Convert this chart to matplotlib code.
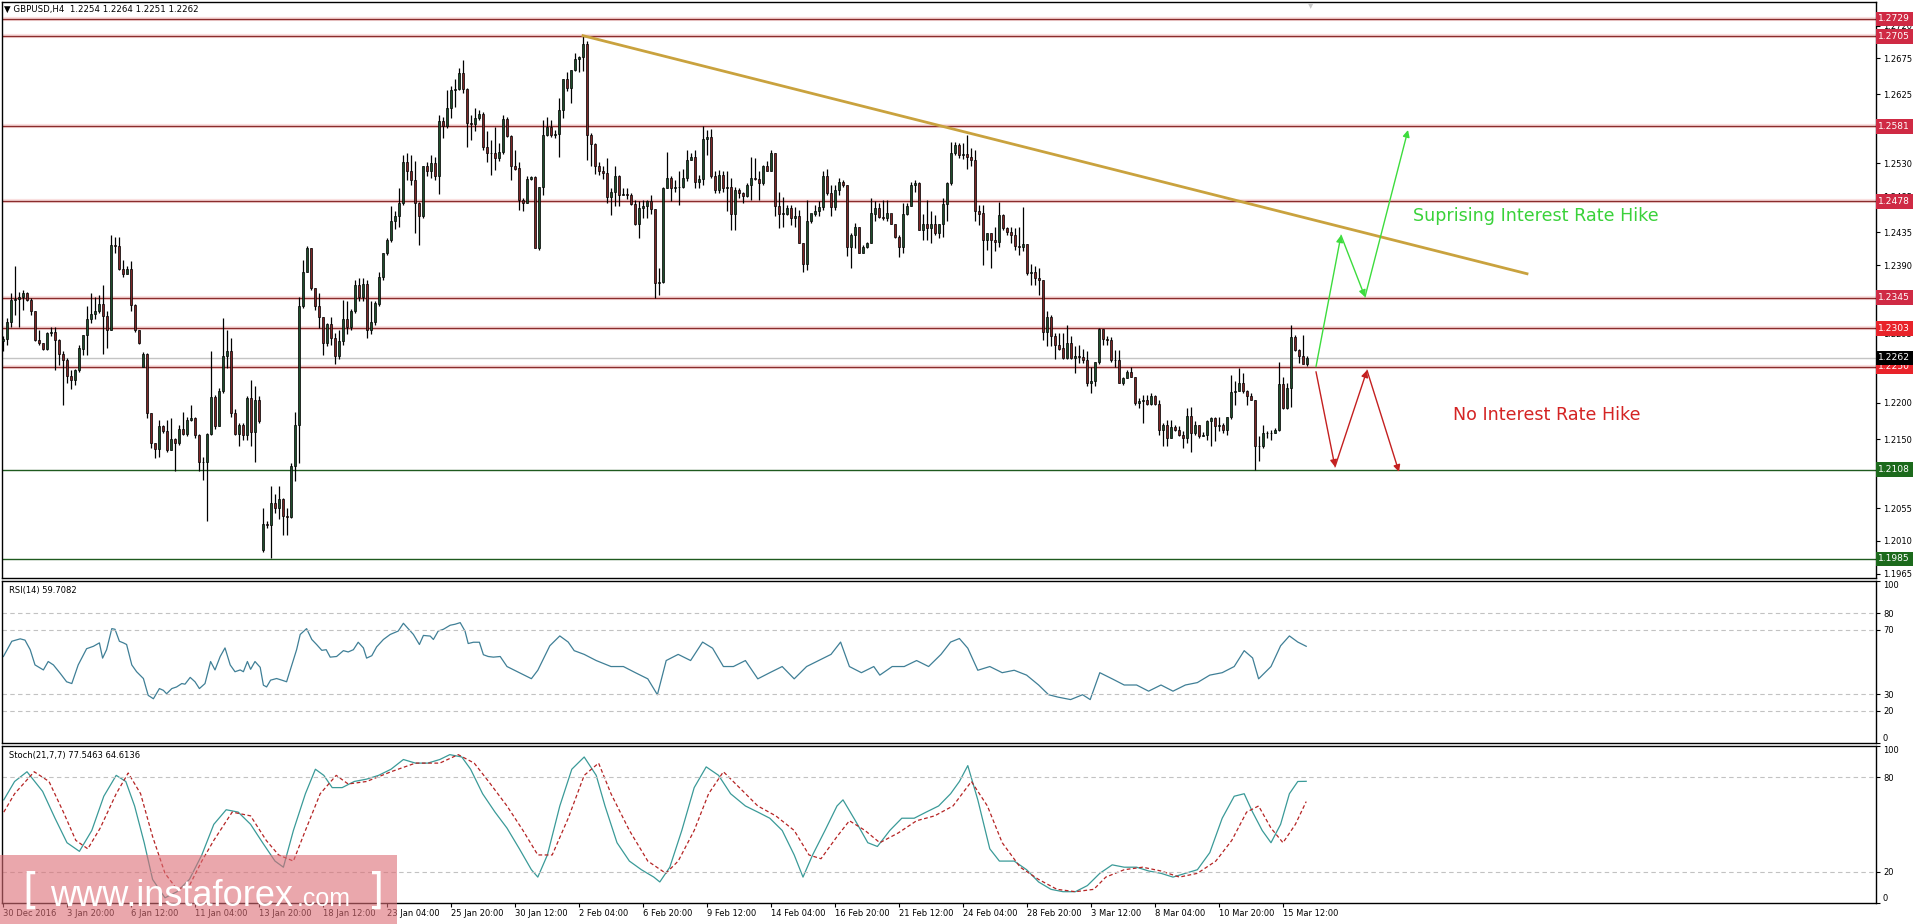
import numpy as np
import matplotlib.pyplot as plt
from matplotlib.patches import Rectangle

# ---- GBPUSD H4 candles (index 0 = 30 Dec 2016)
close = [
    1.2288, 1.2312, 1.2342, 1.2343, 1.2346, 1.2351, 1.2342, 1.2326, 1.2287, 1.2283,
    1.2274, 1.2296, 1.2298, 1.2287, 1.2267, 1.2259, 1.2237, 1.2232, 1.2245, 1.2275,
    1.2293, 1.2316, 1.2323, 1.2327, 1.2336, 1.2320, 1.2300, 1.2418, 1.2416, 1.2385,
    1.2378, 1.2384, 1.2335, 1.2301, 1.2282, 1.2267, 1.2186, 1.2145, 1.2136, 1.2168,
    1.2161, 1.2135, 1.2150, 1.2145, 1.2164, 1.2157, 1.2176, 1.2179, 1.2156, 1.2119,
    1.2118, 1.2157, 1.2208, 1.2168, 1.2216, 1.2265, 1.2271, 1.2186, 1.2157, 1.2169,
    1.2156, 1.2207, 1.2160, 1.2204, 1.2175, 1.2033, 1.2032, 1.2062, 1.2055, 1.2068,
    1.2044, 1.2043, 1.2113, 1.2169, 1.2333, 1.2381, 1.2414, 1.2358, 1.2333, 1.2318,
    1.2282, 1.2309, 1.2290, 1.2265, 1.2285, 1.2315, 1.2305, 1.2327, 1.2363, 1.2346,
    1.2364, 1.2300, 1.2312, 1.2337, 1.2374, 1.2406, 1.2425, 1.2450, 1.2457, 1.2475,
    1.2532, 1.2519, 1.2507, 1.2475, 1.2457, 1.2526, 1.2519, 1.2530, 1.2512, 1.2588,
    1.2581, 1.2606, 1.2631, 1.2632, 1.2654, 1.2632, 1.2586, 1.2585, 1.2592, 1.2598,
    1.2553, 1.2545, 1.2544, 1.2537, 1.2546, 1.2591, 1.2568, 1.2526, 1.2523, 1.2480,
    1.2476, 1.2508, 1.2511, 1.2413, 1.2498, 1.2569, 1.2580, 1.2569, 1.2571, 1.2604,
    1.2646, 1.2634, 1.2659, 1.2674, 1.2676, 1.2694, 1.2569, 1.2557, 1.2526, 1.2519,
    1.2517, 1.2484, 1.2490, 1.2513, 1.2487, 1.2488, 1.2487, 1.2474, 1.2447, 1.2468,
    1.2472, 1.2478, 1.2467, 1.2365, 1.2366, 1.2496, 1.2510, 1.2496, 1.2497, 1.2497,
    1.2510, 1.2535, 1.2539, 1.2505, 1.2508, 1.2563, 1.2567, 1.2512, 1.2494, 1.2514,
    1.2496, 1.2497, 1.2461, 1.2494, 1.2489, 1.2485, 1.2500, 1.2510, 1.2508, 1.2503,
    1.2527, 1.2519, 1.2545, 1.2471, 1.2461, 1.2461, 1.2468, 1.2455, 1.2457, 1.2420,
    1.2392, 1.2450, 1.2461, 1.2464, 1.2470, 1.2513, 1.2489, 1.2470, 1.2493, 1.2504,
    1.2500, 1.2415, 1.2432, 1.2443, 1.2406, 1.2415, 1.2420, 1.2461, 1.2468, 1.2456,
    1.2455, 1.2461, 1.2447, 1.2428, 1.2415, 1.2461, 1.2472, 1.2500, 1.2503, 1.2438,
    1.2447, 1.2441, 1.2447, 1.2434, 1.2447, 1.2474, 1.2503, 1.2544, 1.2555, 1.2542,
    1.2543, 1.2539, 1.2535, 1.2464, 1.2461, 1.2425, 1.2434, 1.2425, 1.2422, 1.2459,
    1.2441, 1.2435, 1.2432, 1.2416, 1.2415, 1.2419, 1.2379, 1.2380, 1.2372, 1.2369,
    1.2298, 1.2318, 1.2292, 1.2280, 1.2275, 1.2262, 1.2282, 1.2262, 1.2264, 1.2263,
    1.2259, 1.2227, 1.2230, 1.2256, 1.2302, 1.2288, 1.2287, 1.2259, 1.2259, 1.2228,
    1.2234, 1.2243, 1.2236, 1.2200, 1.2202, 1.2204, 1.2199, 1.2209, 1.2199, 1.2163,
    1.2170, 1.2152, 1.2167, 1.2163, 1.2156, 1.2151, 1.2182, 1.2158, 1.2170, 1.2154,
    1.2156, 1.2175, 1.2179, 1.2168, 1.2169, 1.2163, 1.2181, 1.2215, 1.2216, 1.2227,
    1.2216, 1.2209, 1.2204, 1.2140, 1.2140, 1.2158, 1.2158, 1.2158, 1.2163, 1.2226,
    1.2193, 1.2220, 1.2291, 1.2273, 1.2264, 1.2254, 1.2262]

high = [
    1.2292, 1.2317, 1.2351, 1.2388, 1.2353, 1.2355, 1.2353, 1.2344, 1.2326, 1.2301,
    1.2283, 1.2298, 1.2305, 1.2305, 1.2288, 1.2271, 1.2262, 1.2245, 1.2247, 1.2280,
    1.2294, 1.2333, 1.2351, 1.2346, 1.2349, 1.2363, 1.2326, 1.2431, 1.2429, 1.2429,
    1.2397, 1.2388, 1.2395, 1.2336, 1.2300, 1.2270, 1.2269, 1.2186, 1.2144, 1.2177,
    1.2169, 1.2177, 1.2179, 1.2151, 1.2170, 1.2188, 1.2181, 1.2197, 1.2181, 1.2157,
    1.2126, 1.2158, 1.2271, 1.2211, 1.2220, 1.2317, 1.2301, 1.2290, 1.2191, 1.2172,
    1.2172, 1.2209, 1.2232, 1.2223, 1.2209, 1.2055, 1.2037, 1.2085, 1.2074, 1.2085,
    1.2069, 1.2055, 1.2117, 1.2188, 1.2346, 1.2397, 1.2416, 1.2414, 1.2358, 1.2351,
    1.2318, 1.2310, 1.2318, 1.2296, 1.2300, 1.2342, 1.2340, 1.2330, 1.2370, 1.2372,
    1.2372, 1.2370, 1.2340, 1.2340, 1.2380, 1.2406, 1.2427, 1.2471, 1.2464, 1.2496,
    1.2541, 1.2544, 1.2542, 1.2534, 1.2477, 1.2526, 1.2532, 1.2542, 1.2539, 1.2597,
    1.2594, 1.2631, 1.2636, 1.2647, 1.2661, 1.2673, 1.2634, 1.2597, 1.2606, 1.2604,
    1.2601, 1.2574, 1.2562, 1.2580, 1.2558, 1.2597, 1.2594, 1.2569, 1.2549, 1.2532,
    1.2482, 1.2512, 1.2512, 1.2513, 1.2498, 1.2590, 1.2594, 1.2590, 1.2576, 1.2620,
    1.2647, 1.2656, 1.2659, 1.2682, 1.2678, 1.2705, 1.2698, 1.2572, 1.2558, 1.2532,
    1.2526, 1.2537, 1.2496, 1.2526, 1.2514, 1.2496, 1.2496, 1.2489, 1.2480, 1.2478,
    1.2480, 1.2480, 1.2487, 1.2467, 1.2386, 1.2498, 1.2546, 1.2512, 1.2507, 1.2519,
    1.2523, 1.2549, 1.2544, 1.2549, 1.2514, 1.2582, 1.2576, 1.2578, 1.2519, 1.2521,
    1.2519, 1.2519, 1.2510, 1.2498, 1.2496, 1.2491, 1.2503, 1.2539, 1.2537, 1.2519,
    1.2528, 1.2533, 1.2549, 1.2544, 1.2491, 1.2484, 1.2473, 1.2473, 1.2470, 1.2466,
    1.2420, 1.2480, 1.2461, 1.2473, 1.2478, 1.2519, 1.2523, 1.2500, 1.2500, 1.2510,
    1.2507, 1.2499, 1.2434, 1.2448, 1.2443, 1.2418, 1.2422, 1.2482, 1.2478, 1.2475,
    1.2480, 1.2480, 1.2457, 1.2447, 1.2432, 1.2475, 1.2475, 1.2505, 1.2507, 1.2505,
    1.2461, 1.2480, 1.2464, 1.2459, 1.2447, 1.2482, 1.2505, 1.2560, 1.2560, 1.2558,
    1.2558, 1.2569, 1.2551, 1.2549, 1.2473, 1.2473, 1.2434, 1.2434, 1.2443, 1.2477,
    1.2461, 1.2443, 1.2443, 1.2441, 1.2443, 1.2470, 1.2417, 1.2392, 1.2388, 1.2386,
    1.2370, 1.2326, 1.2321, 1.2296, 1.2296, 1.2296, 1.2308, 1.2292, 1.2278, 1.2280,
    1.2275, 1.2271, 1.2250, 1.2257, 1.2303, 1.2296, 1.2292, 1.2291, 1.2273, 1.2273,
    1.2236, 1.2245, 1.2250, 1.2236, 1.2207, 1.2211, 1.2211, 1.2214, 1.2211, 1.2204,
    1.2172, 1.2176, 1.2176, 1.2170, 1.2168, 1.2161, 1.2193, 1.2195, 1.2175, 1.2165,
    1.2160, 1.2177, 1.2181, 1.2181, 1.2181, 1.2172, 1.2181, 1.2239, 1.2230, 1.2248,
    1.2241, 1.2218, 1.2214, 1.2204, 1.2154, 1.2170, 1.2161, 1.2163, 1.2165, 1.2256,
    1.2236, 1.2227, 1.2308, 1.2294, 1.2275, 1.2294, 1.2264]

low = [
    1.2271, 1.2280, 1.2305, 1.2321, 1.2305, 1.2328, 1.2340, 1.2321, 1.2285, 1.2280,
    1.2273, 1.2273, 1.2292, 1.2246, 1.2252, 1.2197, 1.2227, 1.2219, 1.2225, 1.2243,
    1.2266, 1.2266, 1.2310, 1.2315, 1.2324, 1.2267, 1.2276, 1.2300, 1.2406, 1.2383,
    1.2373, 1.2378, 1.2326, 1.2298, 1.2281, 1.2250, 1.2179, 1.2138, 1.2124, 1.2126,
    1.2158, 1.2133, 1.2135, 1.2106, 1.2142, 1.2156, 1.2154, 1.2175, 1.2151, 1.2106,
    1.2094, 1.2037, 1.2156, 1.2164, 1.2168, 1.2214, 1.2248, 1.2181, 1.2156, 1.2140,
    1.2149, 1.2149, 1.2140, 1.2119, 1.2172, 1.1994, 1.2027, 1.1986, 1.2048, 1.2040,
    1.2018, 1.2018, 1.2041, 1.2092, 1.2117, 1.2331, 1.2380, 1.2355, 1.2328, 1.2303,
    1.2266, 1.2278, 1.2280, 1.2253, 1.2260, 1.2280, 1.2295, 1.2300, 1.2324, 1.2340,
    1.2340, 1.2290, 1.2295, 1.2308, 1.2334, 1.2370, 1.2404, 1.2422, 1.2439, 1.2443,
    1.2473, 1.2507, 1.2500, 1.2434, 1.2418, 1.2455, 1.2512, 1.2510, 1.2507, 1.2488,
    1.2565, 1.2579, 1.2592, 1.2608, 1.2631, 1.2627, 1.2553, 1.2562, 1.2574, 1.2590,
    1.2549, 1.2532, 1.2514, 1.2521, 1.2534, 1.2543, 1.2567, 1.2507, 1.2521, 1.2466,
    1.2464, 1.2475, 1.2507, 1.2413, 1.2411, 1.2487, 1.2568, 1.2567, 1.2565, 1.2539,
    1.2592, 1.2630, 1.2613, 1.2657, 1.2656, 1.2657, 1.2535, 1.2526, 1.2516, 1.2514,
    1.2509, 1.2476, 1.2459, 1.2471, 1.2471, 1.2486, 1.2481, 1.2473, 1.2445, 1.2427,
    1.2455, 1.2455, 1.2460, 1.2344, 1.2349, 1.2365, 1.2496, 1.2478, 1.2491, 1.2473,
    1.2496, 1.2506, 1.2535, 1.2496, 1.2496, 1.2500, 1.2542, 1.2510, 1.2489, 1.2489,
    1.2491, 1.2464, 1.2438, 1.2438, 1.2482, 1.2475, 1.2484, 1.2480, 1.2507, 1.2480,
    1.2500, 1.2519, 1.2519, 1.2457, 1.2441, 1.2443, 1.2459, 1.2445, 1.2443, 1.2420,
    1.2381, 1.2383, 1.2448, 1.2457, 1.2457, 1.2466, 1.2487, 1.2457, 1.2466, 1.2487,
    1.2497, 1.2402, 1.2386, 1.2413, 1.2406, 1.2406, 1.2413, 1.2420, 1.2450, 1.2455,
    1.2452, 1.2450, 1.2447, 1.2427, 1.2401, 1.2406, 1.2459, 1.2472, 1.2491, 1.2438,
    1.2425, 1.2425, 1.2420, 1.2432, 1.2427, 1.2429, 1.2450, 1.2500, 1.2542, 1.2537,
    1.2536, 1.2523, 1.2526, 1.2450, 1.2445, 1.2390, 1.2411, 1.2386, 1.2409, 1.2415,
    1.2438, 1.2432, 1.2420, 1.2411, 1.2404, 1.2409, 1.2376, 1.2363, 1.2363, 1.2349,
    1.2287, 1.2278, 1.2278, 1.2260, 1.2273, 1.2260, 1.2260, 1.2260, 1.2241, 1.2255,
    1.2255, 1.2223, 1.2214, 1.2223, 1.2253, 1.2280, 1.2280, 1.2257, 1.2250, 1.2227,
    1.2225, 1.2234, 1.2236, 1.2197, 1.2193, 1.2172, 1.2197, 1.2197, 1.2197, 1.2156,
    1.2140, 1.2140, 1.2152, 1.2161, 1.2154, 1.2138, 1.2145, 1.2133, 1.2156, 1.2152,
    1.2154, 1.2149, 1.2140, 1.2147, 1.2161, 1.2158, 1.2156, 1.2178, 1.2197, 1.2216,
    1.2214, 1.2197, 1.2204, 1.2108, 1.2120, 1.2138, 1.2152, 1.2149, 1.2158, 1.2161,
    1.2191, 1.2191, 1.2195, 1.2271, 1.2255, 1.2253, 1.2251]

# opens that differ from the previous close (weekend gaps)
gap_open = {0: 1.2285, 35: 1.2250, 65: 1.1998}

# ---- levels and annotations
red_levels = [1.2729, 1.2705, 1.2581, 1.2478, 1.2345]
bright_levels = [1.2303, 1.2250]
green_levels = [1.2108, 1.1985]
last_price = 1.2262
price_ticks = [1.2720, 1.2675, 1.2625, 1.2580, 1.2530, 1.2485, 1.2435, 1.2390, 1.2340,
               1.2295, 1.2245, 1.2200, 1.2150, 1.2105, 1.2055, 1.2010, 1.1965]
trend_x = [145, 381]
trend_y = [1.2706, 1.2378]
hike_x = [328.25, 334.5, 340.5, 351.25]
hike_y = [1.2250, 1.2431, 1.2346, 1.2576]
nohike_x = [328.25, 333, 341, 349]
nohike_y = [1.2243, 1.2112, 1.2245, 1.2105]

# ---- indicators (candle index, value)
rsi_pts = [
    (0.1, 53.4), (2.2, 62.8), (4.3, 64.3), (5.5, 63.5), (6.8, 57.6), (8.0, 48.2), (10.1, 45.1),
    (11.3, 50.3), (12.6, 48.2), (14.3, 43.0), (15.9, 37.8), (17.2, 36.7), (18.8, 48.2),
    (20.9, 58.2), (22.6, 59.7), (24.1, 61.8), (24.9, 52.4), (25.9, 57.6), (27.2, 70.6),
    (28.0, 70.2), (29.1, 62.8), (30.1, 61.8), (30.9, 60.8), (32.2, 48.2), (33.4, 44.0),
    (35.1, 39.8), (36.3, 29.4), (37.6, 27.3), (39.1, 33.6), (40.1, 32.5), (40.9, 30.4),
    (42.2, 33.6), (43.4, 34.6), (44.7, 36.7), (45.5, 36.3), (46.8, 40.5), (48.0, 37.8),
    (49.1, 33.6), (50.5, 36.7), (51.9, 50.3), (53.0, 45.1), (54.3, 53.4), (55.5, 58.7),
    (56.8, 48.2), (58.0, 44.0), (59.3, 45.1), (60.1, 44.0), (61.1, 50.3), (61.9, 45.5),
    (63.0, 50.3), (64.3, 46.7), (65.1, 35.7), (65.9, 34.6), (66.9, 38.8), (68.4, 39.8),
    (69.7, 38.8), (70.9, 37.8), (72.2, 48.2), (73.4, 57.6), (74.3, 67.0), (75.9, 70.6),
    (77.2, 63.9), (78.4, 60.8), (79.7, 57.2), (80.8, 57.6), (81.8, 53.0), (83.4, 53.4),
    (85.1, 57.0), (86.3, 56.2), (87.6, 57.6), (88.8, 62.2), (90.1, 58.7), (90.9, 52.4),
    (92.2, 53.9), (93.4, 59.3), (95.1, 63.9), (96.8, 67.0), (98.8, 69.1), (100.1, 73.9),
    (101.3, 70.6), (102.6, 67.0), (104.1, 60.8), (105.1, 66.4), (106.8, 66.0), (107.6, 63.9),
    (108.8, 69.1), (110.1, 70.2), (111.8, 72.7), (113.0, 73.3), (114.3, 74.3), (115.5, 69.1),
    (116.3, 61.4), (117.6, 62.2), (119.1, 62.2), (120.1, 54.5), (121.3, 53.4), (122.6, 53.0),
    (124.3, 53.4), (126.0, 47.2), (129.1, 43.4), (132.1, 39.7), (133.7, 44.9), (136.7, 60.0),
    (139.2, 66.1), (141.3, 62.3), (142.8, 57.0), (145.3, 54.7), (148.3, 50.9), (152.0, 47.2),
    (155.1, 47.2), (158.1, 43.4), (161.2, 39.6), (163.6, 29.8), (165.8, 50.9), (168.8, 54.7),
    (171.9, 50.9), (174.9, 62.3), (177.4, 58.5), (180.1, 47.2), (182.6, 47.2), (185.6, 50.9),
    (188.7, 39.6), (191.7, 43.4), (194.8, 47.2), (197.8, 39.6), (200.9, 47.2), (203.9, 50.9),
    (207.0, 54.7), (209.4, 62.3), (211.6, 47.2), (214.6, 43.4), (217.7, 47.2), (219.2, 41.9),
    (222.3, 47.2), (225.3, 47.2), (228.4, 50.9), (231.4, 47.2), (234.5, 54.7), (236.9, 62.3),
    (239.1, 64.5), (241.2, 58.5), (243.7, 44.9), (246.7, 47.2), (249.8, 43.4), (252.8, 44.9),
    (255.9, 41.9), (258.9, 35.8), (261.4, 29.8), (263.8, 28.3), (266.9, 26.8), (269.9, 29.8),
    (271.8, 26.8), (274.2, 43.4), (277.3, 39.6), (280.3, 35.8), (283.4, 35.8), (286.4, 32.0),
    (289.5, 35.8), (292.5, 32.0), (295.6, 35.8), (298.6, 37.3), (301.7, 41.9), (304.8, 43.4),
    (307.8, 47.2), (310.3, 57.0), (312.4, 52.5), (313.9, 39.6), (317.0, 47.2), (319.4, 60.0),
    (321.6, 66.1), (323.7, 62.3), (325.8, 59.7)]

stoch_k_pts = [
    (0.2, 65.7), (2.9, 77.4), (6.0, 83.6), (9.9, 71.1), (13.0, 54.0), (16.0, 38.4), (19.1, 32.9),
    (22.2, 46.2), (25.2, 68.0), (28.3, 81.3), (30.7, 77.4), (32.9, 61.8), (35.3, 38.4),
    (37.4, 15.0), (40.5, 3.3), (43.5, 7.2), (46.6, 15.0), (49.7, 30.6), (52.7, 50.1),
    (55.8, 59.4), (58.8, 57.9), (61.9, 50.1), (64.9, 38.4), (68.0, 26.7), (70.1, 22.8),
    (72.6, 46.2), (75.6, 69.6), (78.1, 85.2), (80.2, 81.3), (82.3, 73.5), (84.8, 73.5),
    (87.8, 77.4), (90.9, 78.9), (93.9, 81.3), (97.0, 85.2), (100.1, 91.4), (103.1, 89.1),
    (106.2, 89.1), (109.2, 91.4), (111.7, 94.5), (114.7, 93.0), (116.9, 85.2), (119.9, 69.6),
    (123.0, 57.9), (126.0, 47.7), (129.1, 34.5), (132.1, 21.2), (133.7, 16.5), (136.1, 30.6),
    (139.2, 61.8), (142.2, 85.2), (145.3, 93.0), (148.3, 81.3), (150.5, 61.8), (153.5, 38.4),
    (156.6, 26.7), (159.6, 21.2), (162.7, 16.5), (164.2, 13.4), (166.7, 22.8), (169.7, 46.2),
    (172.8, 73.5), (175.8, 86.7), (178.9, 81.3), (181.9, 69.6), (185.6, 61.8), (188.7, 57.9),
    (191.7, 54.0), (194.8, 46.2), (197.8, 30.6), (200.0, 16.5), (202.4, 30.6), (205.5, 46.2),
    (208.5, 61.8), (210.0, 65.7), (213.1, 52.4), (216.2, 38.4), (218.6, 36.0), (221.7, 46.2),
    (224.7, 54.0), (227.8, 54.0), (230.8, 57.9), (233.9, 61.8), (236.9, 69.6), (239.1, 77.4),
    (241.2, 87.5), (243.7, 65.7), (246.7, 34.5), (249.1, 26.7), (252.8, 26.7), (255.9, 21.2),
    (258.9, 13.4), (262.0, 8.7), (265.0, 7.2), (268.1, 7.2), (271.1, 11.1), (274.2, 18.9),
    (277.3, 24.3), (280.3, 22.8), (283.4, 22.8), (286.4, 20.4), (289.5, 18.9), (292.5, 16.5),
    (295.6, 18.9), (298.6, 21.2), (301.7, 32.1), (304.8, 54.0), (307.8, 68.0), (310.3, 69.6),
    (312.4, 57.9), (314.8, 46.2), (317.0, 38.4), (319.4, 50.1), (321.6, 69.6), (323.7, 77.4),
    (325.8, 77.5)]

stoch_d_pts = [
    (0.2, 57.9), (2.9, 69.6), (7.8, 83.6), (11.5, 77.4), (15.1, 57.9), (18.2, 39.9), (21.2, 34.5),
    (24.3, 47.7), (28.3, 69.6), (31.3, 82.8), (34.4, 69.6), (37.4, 42.3), (40.5, 18.9),
    (43.5, 8.7), (46.6, 11.1), (49.7, 26.7), (52.7, 39.9), (57.3, 57.9), (61.9, 55.5),
    (65.8, 39.9), (68.9, 30.6), (72.6, 26.7), (75.6, 46.2), (79.3, 69.6), (83.3, 81.3),
    (86.3, 75.8), (90.9, 77.4), (97.0, 83.6), (103.1, 89.1), (109.2, 89.1), (113.8, 94.5),
    (117.8, 89.1), (121.4, 77.4), (126.0, 61.8), (130.0, 46.2), (133.7, 30.6), (137.3, 30.6),
    (141.3, 54.0), (145.3, 81.3), (148.9, 89.1), (152.0, 69.6), (156.6, 46.2), (161.2, 26.7),
    (165.7, 18.9), (168.8, 26.7), (172.8, 46.2), (176.4, 69.6), (180.1, 83.6), (184.1, 73.5),
    (188.7, 61.8), (193.2, 55.5), (197.8, 46.2), (201.5, 30.6), (204.5, 28.2), (208.5, 42.3),
    (211.6, 52.4), (215.5, 46.2), (219.2, 38.4), (223.8, 44.6), (228.4, 52.4), (232.9, 55.5),
    (237.5, 61.8), (242.1, 77.4), (246.1, 61.8), (249.8, 38.4), (254.3, 22.8), (258.9, 15.0),
    (263.5, 8.7), (268.1, 7.2), (272.7, 8.7), (275.7, 16.5), (280.3, 21.2), (284.9, 22.8),
    (289.5, 20.4), (294.1, 16.5), (298.6, 18.9), (303.2, 26.7), (307.2, 39.9), (310.9, 57.9),
    (313.9, 61.8), (317.0, 47.7), (320.0, 38.4), (323.1, 50.1), (325.8, 64.6)]

time_ticks = list(range(0, 321, 16))
time_labels = ['30 Dec 2016', '3 Jan 20:00', '6 Jan 12:00', '11 Jan 04:00', '13 Jan 20:00',
               '18 Jan 12:00', '23 Jan 04:00', '25 Jan 20:00', '30 Jan 12:00', '2 Feb 04:00',
               '6 Feb 20:00', '9 Feb 12:00', '14 Feb 04:00', '16 Feb 20:00', '21 Feb 12:00',
               '24 Feb 04:00', '28 Feb 20:00', '3 Mar 12:00', '8 Mar 04:00', '10 Mar 20:00',
               '15 Mar 12:00']

# ---- figure
W, H = 1916, 924
fig = plt.figure(figsize=(W / 100, H / 100), dpi=100)
plt.rcParams['font.family'] = ['DejaVu Sans']

def box(top, bottom, left=2, right=1876):
    return [left / W, 1 - bottom / H, (right - left) / W, (bottom - top) / H]

ax = fig.add_axes(box(2, 578))
ax_r = fig.add_axes(box(581, 743), sharex=ax)
ax_s = fig.add_axes(box(746, 903), sharex=ax)

for a in (ax, ax_r, ax_s):
    for sp in a.spines.values():
        sp.set_color('black')
        sp.set_linewidth(1.0)
    a.yaxis.tick_right()
    a.tick_params(axis='y', length=3, width=0.8, pad=2, labelsize=6, colors='black')
    a.tick_params(axis='x', bottom=False, labelbottom=False)

# candles
c = np.array(close)
o = np.r_[close[0], close[:-1]]
for k, v in gap_open.items():
    o[k] = v
hi = np.maximum(np.array(high), np.maximum(o, c))
lo = np.minimum(np.array(low), np.minimum(o, c))
idx = np.arange(len(c))
up = c >= o
ax.vlines(idx, lo, hi, color='black', lw=0.9, zorder=4)
ax.bar(idx[up], np.maximum(c - o, 0.00004)[up], bottom=o[up], width=0.72,
       color='#1e4d2b', edgecolor='black', linewidth=0.5, zorder=5)
ax.bar(idx[~up], (o - c)[~up], bottom=c[~up], width=0.72,
       color='#7c2626', edgecolor='black', linewidth=0.5, zorder=5)

# horizontal levels
for lv in red_levels + bright_levels:
    ax.axhline(lv, color='#fae0e0', lw=3.0, zorder=1)
    ax.axhline(lv, color='#8a2c2c', lw=1.0, zorder=2)
for lv in green_levels:
    ax.axhline(lv, color='#1f5a1f', lw=1.0, zorder=2)
ax.axhline(last_price, color='#c4c4c4', lw=1.0, zorder=2)

ax.plot(trend_x, trend_y, color='#c9a23e', lw=2.0, zorder=6)

def zigzag(xs, ys, color):
    for k in range(len(xs) - 1):
        ax.annotate('', xy=(xs[k + 1], ys[k + 1]), xytext=(xs[k], ys[k]),
                    arrowprops=dict(arrowstyle='-|>', color=color, lw=1.0,
                                    mutation_scale=10, shrinkA=0, shrinkB=0), zorder=7)

zigzag(hike_x, hike_y, '#3ddc3d')
zigzag(nohike_x, nohike_y, '#c42020')
ax.text(383.25, 1.2458, 'Suprising Interest Rate Hike', color='#3ad23a', fontsize=12.6,
        ha='center', va='center')
ax.text(386, 1.2183, 'No Interest Rate Hike', color='#d42424', fontsize=12.6,
        ha='center', va='center')

ax.set_xlim(-0.25, 468.25)
ax.set_ylim(1.19588, 1.27524)
ax.set_yticks(price_ticks)
ax.set_yticklabels(['%.4f' % t for t in price_ticks])

def tag(y, fc):
    ax.text(1.0013, y, '%.4f' % y, transform=ax.get_yaxis_transform(), ha='left', va='center',
            fontsize=6.6, color='white', clip_on=False, zorder=10,
            bbox=dict(boxstyle='square,pad=0.32', fc=fc, ec='none'))

for lv in red_levels:
    tag(lv, '#cf2a44')
for lv in bright_levels:
    tag(lv, '#e8232a')
for lv in green_levels:
    tag(lv, '#1c6a1c')
tag(last_price, 'black')

# RSI
rx, ry = zip(*rsi_pts)
ax_r.plot(rx, ry, color='#3f7f96', lw=0.9)
for lv in (80, 70, 30, 20):
    ax_r.axhline(lv, color='#c2c2c2', lw=0.8, ls=(0, (4, 3)))
ax_r.set_ylim(0, 100)
ax_r.set_yticks([100, 80, 70, 30, 20, 0])
ax_r.text(0.004, 0.97, 'RSI(14) 59.7082', transform=ax_r.transAxes, fontsize=6, va='top')

# Stochastic
kx, ky = zip(*stoch_k_pts)
dx, dy = zip(*stoch_d_pts)
ax_s.plot(kx, ky, color='#3a9a98', lw=0.9)
ax_s.plot(dx, dy, color='#b52424', lw=0.9, ls=(0, (3, 2)))
for lv in (80, 20):
    ax_s.axhline(lv, color='#c2c2c2', lw=0.8, ls=(0, (4, 3)))
ax_s.set_ylim(0, 100)
ax_s.set_yticks([100, 80, 20, 0])
ax_s.text(0.004, 0.97, 'Stoch(21,7,7) 77.5463 64.6136', transform=ax_s.transAxes,
          fontsize=6, va='top')

for a in (ax_r, ax_s):
    labs = a.get_yticklabels()
    labs[0].set_va('top')
    labs[-1].set_va('bottom')

ax_s.tick_params(axis='x', bottom=True, labelbottom=True, length=3, width=0.8,
                 labelsize=6, pad=1)
ax_s.set_xticks(time_ticks)
ax_s.set_xticklabels(time_labels, ha='left')

# header
fig.text(4 / W, 1 - 9 / H, '\u25bc GBPUSD,H4  1.2254 1.2264 1.2251 1.2262', fontsize=6.2,
         va='center', ha='left')
fig.text(1311 / W, 1 - 6 / H, '\u25bc', fontsize=5, color='#c8c8c8', ha='center', va='center')

# watermark
fig.patches.append(Rectangle((0, 0), 397 / W, 69 / H, transform=fig.transFigure,
                             fc='#dc6d75', alpha=0.6, ec='none', zorder=5))
fig.text(22 / W, 1 - 892 / H, '[', color='white', fontsize=30, ha='left', va='center', zorder=6)
fig.text(50 / W, 1 - 896 / H, 'www.instaforex', color='white', fontsize=26,
         family='Liberation Sans', ha='left', va='center', zorder=6)
fig.text(297 / W, 1 - 899 / H, '.com', color='white', fontsize=18,
         family='Liberation Sans', ha='left', va='center', zorder=6)
fig.text(368 / W, 1 - 892 / H, ']', color='white', fontsize=30, ha='left', va='center', zorder=6)

plt.savefig('out.png', dpi=100)
